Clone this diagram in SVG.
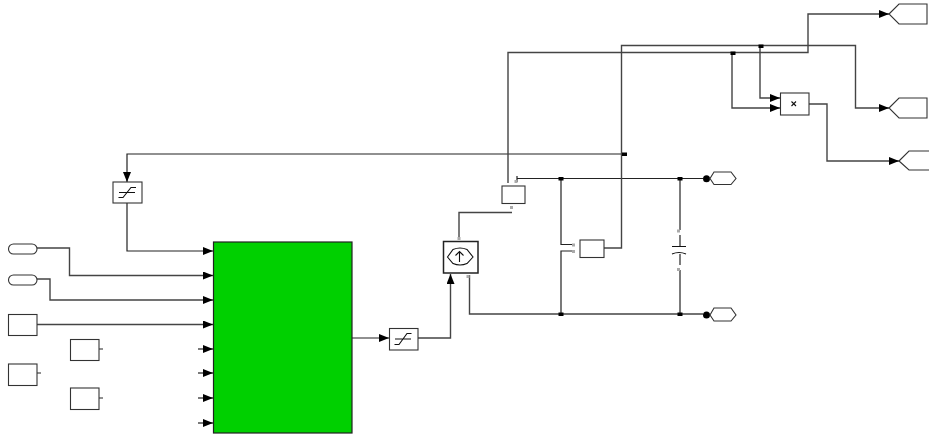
<svg xmlns="http://www.w3.org/2000/svg" width="929" height="434" viewBox="0 0 929 434">
<style>
.w{fill:none;stroke:#222;stroke-width:1.2}
.g{fill:none;stroke:#444;stroke-width:1.4}
.b{fill:#fff;stroke:#333;stroke-width:1.1}
.k{fill:none;stroke:#111;stroke-width:1.1}
.d{fill:#000}
.p{fill:#aaa}
</style>
<defs>
<marker id="a" markerUnits="userSpaceOnUse" markerWidth="10" markerHeight="8" refX="10" refY="4" orient="auto"><path d="M0,0L10,4L0,8Z" fill="#000"/></marker>
</defs>
<rect width="929" height="434" fill="#fff"/>
<g id="connectors">
<path class="w" d="M624,154H127V182" marker-end="url(#a)"/>
<path class="w" d="M127,203V251H213" marker-end="url(#a)"/>
<path class="g" d="M37,248H69.500V275.500H213" marker-end="url(#a)"/>
<path class="g" d="M37,279H50V300H213" marker-end="url(#a)"/>
<path class="g" d="M37,324.500H213" marker-end="url(#a)"/>
<path class="w" d="M198,349H213" marker-end="url(#a)"/>
<path class="w" d="M198,373H213" marker-end="url(#a)"/>
<path class="w" d="M198,398H213" marker-end="url(#a)"/>
<path class="w" d="M198,423H213" marker-end="url(#a)"/>
<path class="w" d="M99,349H103M37,373H41M99,398H103"/>
<path class="w" d="M352,338H389" marker-end="url(#a)"/>
<path class="g" d="M418,338H450.500V274" marker-end="url(#a)"/>
<path class="g" d="M459,237V212.500H512"/>
<path class="g" d="M469.500,275V314H703"/>
<path class="w" d="M517,176V182M517,178.500H703"/>
<path class="w" d="M561,178.500V244.500H575M561,314V251H575"/>
<path class="g" d="M604,248H621.500V45.500H855.500V108H889" marker-end="url(#a)"/>
<path class="g" d="M508,183V52.500H808V14H889" marker-end="url(#a)"/>
<path class="g" d="M760,46V98H780" marker-end="url(#a)"/>
<path class="g" d="M732,53V108H780" marker-end="url(#a)"/>
<path class="g" d="M809,104H827V161H899" marker-end="url(#a)"/>
<path class="g" d="M680,178.500V230M680,270V314"/>
<path class="d" d="M558.500,177h5v3.500h-5zM677.500,177h5v3.500h-5zM558.500,312.500h5v3.500h-5zM677.500,312.500h5v3.500h-5zM622,152.500h5v3.500h-5zM758.500,44.500h5v3.500h-5zM730.500,51.500h5v3.500h-5z"/>
</g>
<g id="sat-top"><rect class="b" x="113" y="182" width="29" height="21"/><path class="k" d="M118.500,197.500H123L131,187.500H136M119,192.500H135"/></g>
<g id="main-block"><rect x="213.500" y="242" width="138.500" height="191" fill="#00d000" stroke="#222" stroke-width="1.2"/></g>
<g id="in1"><rect class="b" x="8.500" y="244" width="28.500" height="10" rx="5"/></g>
<g id="in2"><rect class="b" x="8.500" y="275" width="28.500" height="10" rx="5"/></g>
<g id="in3"><rect class="b" x="8.500" y="314.500" width="28.500" height="21"/></g>
<g id="in4"><rect class="b" x="70.500" y="339.500" width="28.500" height="21"/></g>
<g id="in5"><rect class="b" x="8.500" y="364" width="28.500" height="21.500"/></g>
<g id="in6"><rect class="b" x="70.500" y="388" width="28.500" height="21.500"/></g>
<g id="sat-mid"><rect class="b" x="389.500" y="328.500" width="28.500" height="21.500"/><path class="k" d="M394.500,344.500H399L407,333.500H411.500M395,339H411"/></g>
<g id="source"><rect x="443.500" y="241.500" width="34.500" height="31.500" fill="#fff" stroke="#222" stroke-width="1.500"/>
<path class="k" d="M447.500,257L453,249.500Q460,246.500 467,249.500L473,257L467,263.500Q460,266.500 453,263.500ZM459.500,262V251.500M455.500,255.500L459.500,251.500L463.500,255.500"/>
<rect class="p" x="457.500" y="237" width="3" height="3"/><rect class="p" x="466.500" y="275" width="3" height="3"/></g>
<g id="meas-v"><rect class="b" x="502" y="186" width="23" height="17.500"/><rect class="p" x="510" y="206" width="3" height="3"/><rect class="p" x="514.500" y="180" width="3" height="3"/></g>
<g id="meas-i"><rect class="b" x="580" y="240" width="24" height="17.500"/><rect class="p" x="572" y="243.500" width="3" height="3"/><rect class="p" x="572" y="250" width="3" height="3"/></g>
<g id="capacitor"><path class="k" d="M680,235V246M672,246.500H686M680,254V265M672,254Q679,251 686,254"/><rect class="p" x="677" y="229.500" width="3" height="3"/><rect class="p" x="677" y="268" width="3" height="3"/></g>
<g id="product"><rect class="b" x="780.500" y="93" width="28.500" height="22"/><path class="k" d="M791.500,101.500L796,106M796,101.500L791.500,106" stroke-width="1.300"/></g>
<g id="port-a"><circle class="d" cx="706.500" cy="178.800" r="3.500"/><path class="b" d="M710,178.500L714,172H731L736,178.500L731,184.500H714Z"/></g>
<g id="port-b"><circle class="d" cx="706.500" cy="315" r="3.500"/><path class="b" d="M710,315L714,308H731L736,315L731,321H714Z"/></g>
<g id="goto1"><path class="b" d="M889,14L899,4H927V24H899Z"/></g>
<g id="goto2"><path class="b" d="M889,108L899,98H927V118H899Z"/></g>
<g id="goto3"><path class="b" d="M899,161L909,151H929M929,170H909L899,161"/></g>
</svg>
